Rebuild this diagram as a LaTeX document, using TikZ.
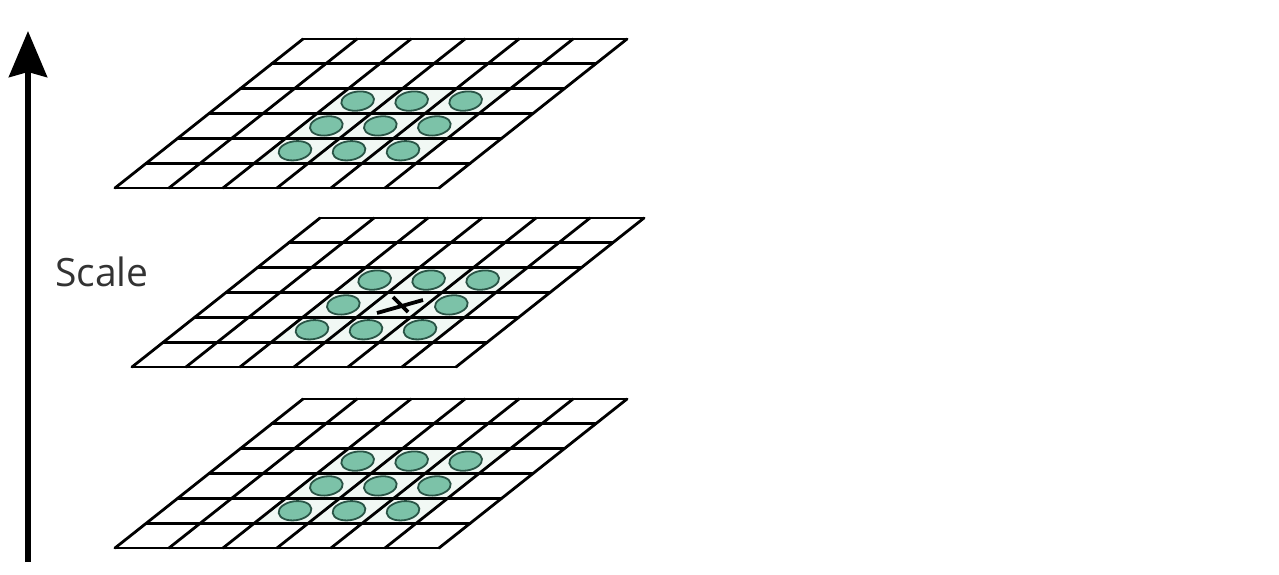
\documentclass[tikz,border=0pt]{standalone}
\usepackage{fontspec}
\setsansfont{Open Sans}
\usetikzlibrary{arrows.meta}
\definecolor{blobfill}{HTML}{7CC2A8}
\definecolor{blobline}{HTML}{2A5446}
\definecolor{tint}{HTML}{F1F8F4}
\definecolor{txt}{HTML}{333333}
\tikzset{
  gridline/.style={line width=2.8pt, line cap=round, line join=round, black},
  blob/.style={fill=blobfill, draw=blobline, line width=1.8pt},
  crossline/.style={line width=3.8pt, black},
  axisline/.style={line width=6pt, -{Stealth[length=46pt, width=38pt, inset=5pt]}},
}
% grid: origin = top-left corner; columns 54, rows 149/6, shear 188 over full height
\newcommand{\layergrid}[2]{%
  \begin{scope}[shift={(#1,#2)}]
    \fill[tint] (2*54-2*188/6, 2*149/6) -- (5*54-2*188/6, 2*149/6)
                -- (5*54-5*188/6, 5*149/6) -- (2*54-5*188/6, 5*149/6) -- cycle;
    \foreach \r in {0,...,6}{
      \draw[gridline] (-188*\r/6, 149*\r/6) -- (324-188*\r/6, 149*\r/6);}
    \foreach \c in {0,...,6}{
      \draw[gridline] (54*\c, 0) -- (54*\c-188, 149);}
  \end{scope}}
\newcommand{\layerblob}[4]{% origin x, origin y, column, row
  \draw[blob] (#1+54*#3+27-188*#4/6-188/12-2, #2+149*#4/6+149/12)
    ellipse [x radius=16.5pt, y radius=9.5pt, rotate=8];}
\begin{document}
\begin{tikzpicture}[x=1pt, y=-1pt]
\useasboundingbox (0,0) rectangle (1279,574);
\fill[white] (0,0) rectangle (1279,574);

% axis
\coordinate (axisbottom) at (28,562);
\coordinate (axistop) at (28,31);
\draw[axisline] (axisbottom) -- (axistop);
\node[anchor=base west, inner sep=0, text=txt, font=\sffamily\fontsize{39}{42}\selectfont] (scalelabel) at (55,286) {Scale};

% top layer
\layergrid{303}{39}
\foreach \c/\r in {2/2,3/2,4/2,2/3,3/3,4/3,2/4,3/4,4/4}{
  \layerblob{303}{39}{\c}{\r}}

% middle layer
\layergrid{320}{218}
\foreach \c/\r in {2/2,3/2,4/2,2/3,4/3,2/4,3/4,4/4}{
  \layerblob{320}{218}{\c}{\r}}
\coordinate (xa1) at (377,313);
\coordinate (xa2) at (423,300);
\coordinate (xb1) at (393,297);
\coordinate (xb2) at (408,312);
\draw[crossline] (xa1) -- (xa2);
\draw[crossline] (xb1) -- (xb2);

% bottom layer
\layergrid{303}{399}
\foreach \c/\r in {2/2,3/2,4/2,2/3,3/3,4/3,2/4,3/4,4/4}{
  \layerblob{303}{399}{\c}{\r}}
\end{tikzpicture}
\end{document}
